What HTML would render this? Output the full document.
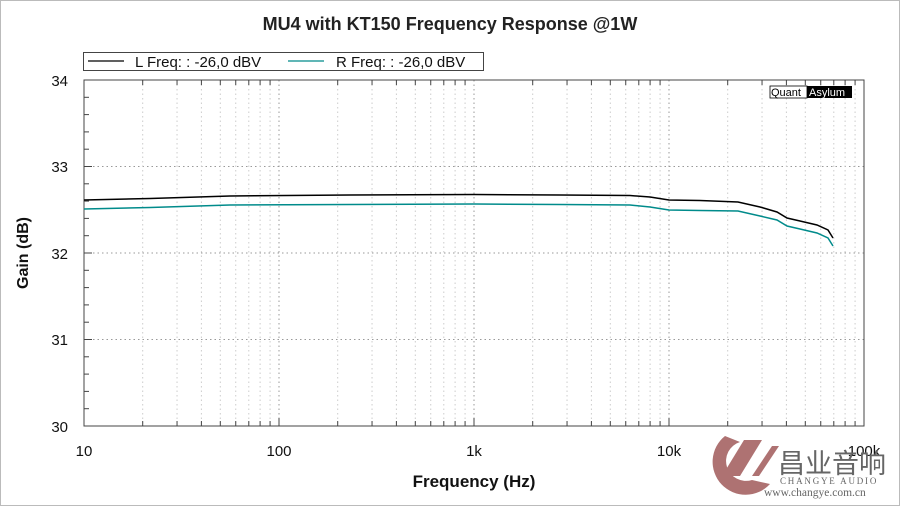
<!DOCTYPE html>
<html><head><meta charset="utf-8"><style>
html,body{margin:0;padding:0;background:#fff;}
svg{display:block;font-family:"Liberation Sans",Arial,sans-serif;}
</style></head><body>
<svg width="900" height="506" viewBox="0 0 900 506" xmlns="http://www.w3.org/2000/svg">
<rect x="0" y="0" width="900" height="506" fill="#fff"/>
<rect x="0.5" y="0.5" width="899" height="505" fill="none" stroke="#bbb"/>
<text x="450" y="30" text-anchor="middle" font-size="18" font-weight="bold" fill="#222">MU4 with KT150 Frequency Response @1W</text>
<!-- legend -->
<rect x="83.5" y="52.5" width="400" height="18" fill="#fff" stroke="#444"/>
<line x1="88" y1="61" x2="124" y2="61" stroke="#000" stroke-width="1.2"/>
<text x="135" y="67" font-size="15" fill="#111">L Freq: : -26,0 dBV</text>
<line x1="288" y1="61" x2="324" y2="61" stroke="#008b8b" stroke-width="1.2"/>
<text x="336" y="67" font-size="15" fill="#111">R Freq: : -26,0 dBV</text>
<g id="grid" stroke-dasharray="1.5,3" stroke-width="1">
<g stroke="#999">
<line x1="84" y1="166.5" x2="864" y2="166.5"/><line x1="84" y1="253" x2="864" y2="253"/><line x1="84" y1="339.5" x2="864" y2="339.5"/>
<line x1="279" y1="80" x2="279" y2="426"/><line x1="474" y1="80" x2="474" y2="426"/><line x1="669" y1="80" x2="669" y2="426"/>
</g>
<g stroke="#ccc" id="minorv"></g>
</g>
<rect x="84" y="80" width="780" height="346" fill="none" stroke="#444" stroke-width="1"/>
<g id="ticks" stroke="#444"></g>
<g font-size="15" fill="#111" text-anchor="end">
<text x="68" y="86">34</text><text x="68" y="172">33</text><text x="68" y="259">32</text><text x="68" y="345">31</text><text x="68" y="432">30</text>
</g>
<g font-size="15" fill="#111" text-anchor="middle">
<text x="84" y="456">10</text><text x="279" y="456">100</text><text x="474" y="456">1k</text><text x="669" y="456">10k</text><text x="864" y="456">100k</text>
</g>
<text x="474" y="487" text-anchor="middle" font-size="17" font-weight="bold" fill="#111">Frequency (Hz)</text>
<text transform="translate(28,253) rotate(-90)" text-anchor="middle" font-size="16" font-weight="bold" fill="#111">Gain (dB)</text>
<rect x="770" y="86" width="37" height="12" fill="#fff" stroke="#000" stroke-width="0.8"/>
<text x="771" y="96" font-size="11" fill="#000">Quant</text>
<rect x="807" y="86" width="45" height="12" fill="#000"/>
<text x="809" y="96" font-size="11" fill="#fff">Asylum</text>
<polyline fill="none" stroke="#000" stroke-width="1.5" points="84,200 150,198.5 230,196 350,195 474,194.5 560,195 630,195.5 650,197 669,200 700,200.5 738,202 760,207 777,212 787,218 800,221 817,225 828,230 833,238"/>
<polyline fill="none" stroke="#008b8b" stroke-width="1.5" points="84,209 150,207.5 230,205 350,204.5 474,204 560,204.5 630,205 650,207 669,210 700,210.5 738,211 760,216 777,220 787,226 800,229 817,233 828,238 833,246"/>
<g opacity="0.85">
<path d="M725,436 a33,33 0 1 0 45,48 l-18,-4 a16,16 0 1 1 -12,-38 z" fill="#a05a5a"/>
<polygon points="722,476 744,440 762,440 740,476" fill="#a05a5a"/>
<polygon points="752,476 772,446 779,446 759,476" fill="#a05a5a"/>
</g>
<text x="778" y="473" font-size="27" fill="#666" font-family="'Liberation Sans','Noto Sans CJK SC',sans-serif">昌业音响</text>
<text x="780" y="484" font-size="9" fill="#666" font-family="'Liberation Serif',serif" letter-spacing="1.8">CHANGYE AUDIO</text>
<text x="764" y="496" font-size="11.5" fill="#666" font-family="'Liberation Serif',serif">www.changye.com.cn</text>
</svg>
<script>
(function(){
var ns="http://www.w3.org/2000/svg";
var mv=document.getElementById("minorv"),tk=document.getElementById("ticks");
function ln(p,x1,y1,x2,y2){var l=document.createElementNS(ns,"line");l.setAttribute("x1",x1);l.setAttribute("y1",y1);l.setAttribute("x2",x2);l.setAttribute("y2",y2);p.appendChild(l);}
for(var d=0;d<4;d++){for(var k=2;k<10;k++){var x=84+195*(d+Math.log10(k));ln(mv,x,80,x,426);ln(tk,x,426,x,421);ln(tk,x,80,x,85);}
var X=84+195*d;ln(tk,X,426,X,418);}
for(var i=1;i<20;i++){var y=80+i*17.3;ln(tk,84,y,i%5==0?92:89,y);}
})();
</script>
</body></html>
